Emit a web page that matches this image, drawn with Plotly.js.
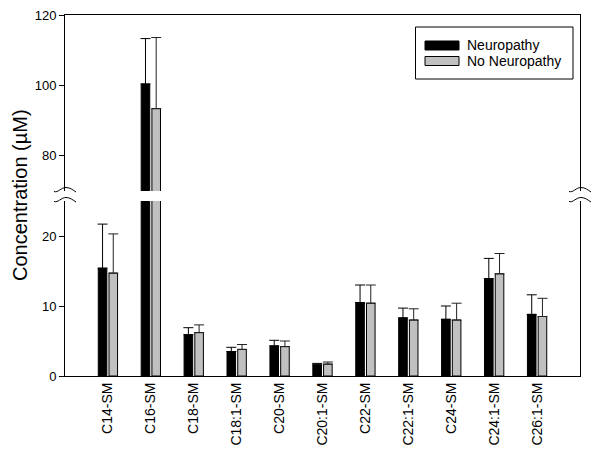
<!DOCTYPE html>
<html><head><meta charset="utf-8">
<script src="https://cdn.plot.ly/plotly-3.0.1.min.js"></script>
<style>html,body{margin:0;padding:0;background:#fff}</style>
</head><body><div id="chart" style="width:600px;height:456px"></div>
<script>
const categories = ['C14-SM','C16-SM','C18-SM','C18:1-SM','C20-SM','C20:1-SM','C22-SM','C22:1-SM','C24-SM','C24:1-SM','C26:1-SM'];
const neuropathy = [15.4, 100.4, 5.9, 3.5, 4.3, 1.6, 10.5, 8.3, 8.1, 13.9, 8.8];
const neuropathyErr = [6.3, 12.9, 1.0, 0.6, 0.8, 0.2, 2.5, 1.4, 1.9, 2.9, 2.8];
const noNeuropathy = [14.7, 93.4, 6.2, 3.8, 4.2, 1.7, 10.4, 8.0, 8.0, 14.6, 8.5];
const noNeuropathyErr = [5.6, 20.2, 1.1, 0.7, 0.8, 0.3, 2.6, 1.6, 2.4, 2.9, 2.6];
const seriesNames = ['Neuropathy', 'No Neuropathy'];
const lowerTicks = [0, 10, 20];
const upperTicks = [80, 100, 120];
const lowerRange = [0, 25];
const upperRange = [70, 120];

const colors = ['#000000', '#c0c0c0'];
const errColors = ['#000', '#222'];

const W = 600, H = 456, M = {l: 65, r: 20, t: 15, b: 80};
const pw = W - M.l - M.r, ph = H - M.t - M.b;
const px = x => (x - M.l) / pw;
const py = y => (H - M.b - y) / ph;

function errSpec(arr, color) {
  return {type: 'data', symmetric: false, array: arr, arrayminus: arr.map(() => 0),
          color: color, thickness: 1, width: 5};
}
function mk(i, y, err, xa, ya) {
  return {type: 'bar', name: seriesNames[i], x: categories, y: y, xaxis: xa, yaxis: ya,
    showlegend: false, legendgroup: seriesNames[i],
    marker: {color: colors[i], line: {color: '#000', width: 1}},
    error_y: errSpec(err, errColors[i]), hoverinfo: 'x+y'};
}
const traces = [
  mk(0, neuropathy, neuropathyErr, 'x', 'y'),
  mk(1, noNeuropathy, noNeuropathyErr, 'x', 'y'),
  mk(0, neuropathy, neuropathyErr, 'x2', 'y2'),
  mk(1, noNeuropathy, noNeuropathyErr, 'x2', 'y2')
];

function tilde(cx, cy) {
  const p = (dx, dy) => px(cx + dx).toFixed(5) + ',' + py(cy + dy).toFixed(5);
  return 'M' + p(-11, 1.5) + ' C' + p(-7, 3) + ' ' + p(-4, -2.5) + ' ' + p(1, -2.5) +
         ' C' + p(5, -2.5) + ' ' + p(8, 0) + ' ' + p(11, 2);
}
const shapes = [];
[65, 580].forEach(cx => {
  [190, 200].forEach(cy => {
    shapes.push({type: 'path', xref: 'paper', yref: 'paper', path: tilde(cx, cy),
                 line: {color: '#000', width: 1}});
  });
});

// legend box (drawn as layout decoration to match swatch shape)
const annotations = [{text: 'Concentration (µM)', xref: 'paper', yref: 'paper',
  x: px(20), y: py(195), textangle: -90, showarrow: false,
  xanchor: 'center', yanchor: 'middle', font: {size: 20}}];
shapes.push({type: 'rect', xref: 'paper', yref: 'paper', x0: px(415.5), x1: px(573), y0: py(27), y1: py(79),
             line: {color: '#000', width: 1}, fillcolor: '#fff', layer: 'above'});
seriesNames.forEach((name, i) => {
  const top = 41 + i * 15.5;
  shapes.push({type: 'rect', xref: 'paper', yref: 'paper', x0: px(425), x1: px(459), y0: py(top), y1: py(top + 9),
               line: {color: '#000', width: 1}, fillcolor: colors[i], layer: 'above'});
  annotations.push({text: name, xref: 'paper', yref: 'paper', x: px(465), y: py(top + 4.5),
                    xanchor: 'left', yanchor: 'middle', showarrow: false, font: {size: 14}});
});

const axisY = {showline: true, mirror: true, linecolor: '#000', linewidth: 1,
  ticks: 'outside', ticklen: 5, tickcolor: '#000', tickwidth: 1,
  showgrid: false, zeroline: false, tickfont: {size: 13}, fixedrange: true};

const layout = {
  width: W, height: H, margin: M,
  paper_bgcolor: '#fff', plot_bgcolor: '#fff',
  font: {family: 'Liberation Sans, Arial, sans-serif', color: '#000'},
  barmode: 'group', bargap: 0.5, bargroupgap: 0.2,
  showlegend: false,
  xaxis: {type: 'category', anchor: 'y', domain: [0, 1], range: [-1, 11],
          showline: true, linecolor: '#000', linewidth: 1, ticks: '',
          tickangle: -90, tickfont: {size: 14}, showgrid: false, zeroline: false},
  xaxis2: {type: 'category', anchor: 'y2', side: 'top', domain: [0, 1], range: [-1, 11],
           showline: true, linecolor: '#000', linewidth: 1, ticks: '',
           showticklabels: false, showgrid: false, zeroline: false},
  yaxis: Object.assign({}, axisY, {anchor: 'x', domain: [0, py(201)], range: lowerRange, tickvals: lowerTicks}),
  yaxis2: Object.assign({}, axisY, {anchor: 'x2', domain: [py(191), 1], range: upperRange, tickvals: upperTicks}),
  annotations: annotations,
  shapes: shapes
};
Plotly.newPlot('chart', traces, layout, {displayModeBar: false, staticPlot: true});
</script></body></html>
